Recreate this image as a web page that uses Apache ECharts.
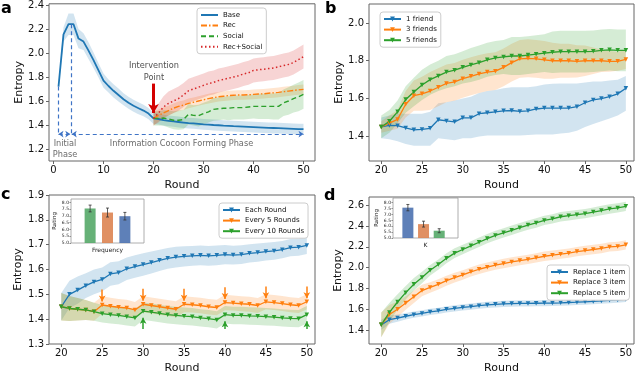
<!DOCTYPE html>
<html>
<head>
<meta charset="utf-8">
<script src="https://cdn.jsdelivr.net/npm/echarts@6/dist/echarts.min.js"></script>
<style>
html,body{margin:0;padding:0;background:#fff;}
#main{width:640px;height:375px;}
</style>
</head>
<body>
<div id="main"></div>
<script>
// rounds
var roundsAll = [1,2,3,4,5,6,7,8,9,10,11,12,13,14,15,16,17,18,19,20,21,22,23,24,25,26,27,28,29,30,31,32,33,34,35,36,37,38,39,40,41,42,43,44,45,46,47,48,49,50];
var roundsLate = [20,21,22,23,24,25,26,27,28,29,30,31,32,33,34,35,36,37,38,39,40,41,42,43,44,45,46,47,48,49,50];

// panel a
var base = [1.72,2.155,2.24,2.24,2.12,2.095,2.02,1.94,1.855,1.77,
  1.725,1.685,1.65,1.615,1.585,1.56,1.54,1.52,1.495,1.455,
  1.45,1.44,1.435,1.43,1.425,1.42,1.415,1.413,1.41,1.405,
  1.403,1.4,1.398,1.395,1.393,1.39,1.388,1.386,1.384,1.382,
  1.38,1.378,1.376,1.375,1.374,1.372,1.37,1.368,1.366,1.365];
var baseSpread = [0.02,0.06,0.09,0.09,0.08,0.07,0.07,0.065,0.06,0.06,
  0.055,0.055,0.055,0.05,0.05,0.05,0.05,0.048,0.047,0.046,
  0.045,0.045,0.045,0.045,0.045,0.045,0.045,0.045,0.045,0.045,
  0.045,0.045,0.045,0.045,0.045,0.045,0.045,0.045,0.045,0.045,
  0.045,0.045,0.045,0.045,0.045,0.045,0.045,0.045,0.045,0.045];
var rec = [1.455,1.48,1.5,1.52,1.54,1.555,1.565,1.58,1.59,1.6,1.61,1.62,1.628,1.635,1.64,1.645,1.648,1.65,1.65,1.652,1.655,1.658,1.66,1.665,1.668,1.672,1.678,1.682,1.688,1.693,1.697];
var recSpread = [0.06,0.05,0.045,0.04,0.04,0.04,0.04,0.04,0.04,0.04,0.04,0.04,0.04,0.04,0.04,0.04,0.04,0.04,0.04,0.04,0.04,0.04,0.04,0.04,0.04,0.04,0.04,0.04,0.04,0.04,0.04];
var social = [1.455,1.455,1.458,1.45,1.44,1.44,1.445,1.49,1.48,1.478,1.495,1.51,1.53,1.535,1.54,1.54,1.545,1.545,1.545,1.55,1.555,1.555,1.555,1.555,1.555,1.555,1.585,1.6,1.62,1.635,1.655];
var socialSpread = [0.06,0.06,0.065,0.07,0.075,0.08,0.08,0.085,0.085,0.09,0.09,0.09,0.095,0.095,0.095,0.1,0.1,0.1,0.1,0.1,0.1,0.105,0.105,0.105,0.11,0.11,0.11,0.115,0.115,0.12,0.12];
var recSocial = [1.455,1.5,1.55,1.58,1.6,1.62,1.65,1.685,1.7,1.715,1.73,1.745,1.755,1.77,1.78,1.79,1.8,1.81,1.825,1.835,1.855,1.86,1.865,1.87,1.875,1.885,1.895,1.905,1.92,1.945,1.97];
var recSocialSpread = [0.06,0.08,0.09,0.1,0.1,0.1,0.1,0.1,0.1,0.1,0.1,0.1,0.1,0.1,0.1,0.1,0.1,0.1,0.1,0.1,0.1,0.1,0.1,0.1,0.1,0.1,0.1,0.1,0.1,0.1,0.1];

// panel b
var friend1 = [1.45,1.458,1.457,1.445,1.435,1.437,1.443,1.488,1.482,1.477,1.498,1.498,1.52,1.525,1.53,1.535,1.537,1.532,1.535,1.545,1.55,1.55,1.55,1.55,1.557,1.578,1.593,1.6,1.61,1.625,1.655];
var friend1Low = [1.39,1.385,1.375,1.36,1.35,1.35,1.35,1.39,1.385,1.38,1.39,1.39,1.4,1.405,1.405,1.405,1.405,1.405,1.408,1.41,1.41,1.41,1.415,1.42,1.43,1.45,1.465,1.48,1.495,1.51,1.535];
var friend1High = [1.5,1.51,1.52,1.52,1.52,1.52,1.53,1.575,1.58,1.59,1.6,1.61,1.63,1.64,1.645,1.655,1.66,1.66,1.66,1.665,1.675,1.678,1.68,1.68,1.68,1.685,1.69,1.69,1.695,1.7,1.72];
var friend3 = [1.45,1.47,1.49,1.57,1.615,1.625,1.64,1.66,1.68,1.688,1.705,1.718,1.73,1.74,1.745,1.765,1.79,1.81,1.813,1.81,1.805,1.8,1.8,1.8,1.797,1.8,1.8,1.8,1.797,1.797,1.807];
var friend3Spread = [0.03,0.04,0.05,0.07,0.08,0.09,0.1,0.1,0.1,0.1,0.1,0.1,0.1,0.1,0.1,0.1,0.1,0.1,0.1,0.1,0.1,0.095,0.09,0.09,0.085,0.08,0.07,0.06,0.055,0.05,0.05];
var friend5 = [1.45,1.48,1.53,1.595,1.635,1.672,1.7,1.72,1.74,1.75,1.765,1.778,1.79,1.805,1.815,1.82,1.825,1.825,1.83,1.835,1.84,1.845,1.848,1.848,1.848,1.848,1.85,1.855,1.858,1.855,1.855];
var friend5Spread = [0.06,0.06,0.06,0.07,0.075,0.08,0.08,0.08,0.085,0.085,0.085,0.09,0.09,0.09,0.09,0.09,0.1,0.1,0.1,0.1,0.1,0.11,0.11,0.11,0.11,0.11,0.11,0.11,0.11,0.11,0.11];

// panel c
var eachRound = [1.45,1.5,1.517,1.535,1.55,1.56,1.582,1.587,1.603,1.612,1.62,1.628,1.637,1.645,1.65,1.653,1.655,1.657,1.655,1.657,1.66,1.658,1.66,1.665,1.668,1.672,1.675,1.68,1.688,1.69,1.697];
var eachSpread = [0.055,0.055,0.055,0.05,0.05,0.048,0.047,0.046,0.045,0.045,0.045,0.044,0.043,0.042,0.042,0.041,0.04,0.04,0.04,0.04,0.039,0.038,0.038,0.037,0.037,0.036,0.036,0.035,0.035,0.035,0.035];
var every5 = [1.45,1.443,1.44,1.437,1.43,1.457,1.452,1.448,1.445,1.437,1.46,1.455,1.45,1.445,1.44,1.46,1.458,1.455,1.45,1.447,1.467,1.465,1.462,1.46,1.455,1.47,1.467,1.463,1.458,1.455,1.47];
var every5Spread = [0.055,0.05,0.045,0.04,0.036,0.035,0.034,0.033,0.033,0.032,0.032,0.032,0.032,0.032,0.032,0.032,0.031,0.031,0.031,0.031,0.031,0.03,0.03,0.03,0.03,0.03,0.03,0.03,0.03,0.03,0.03];
var every10 = [1.45,1.443,1.44,1.437,1.43,1.422,1.418,1.415,1.41,1.405,1.432,1.428,1.423,1.418,1.415,1.412,1.41,1.405,1.402,1.397,1.418,1.415,1.415,1.413,1.412,1.41,1.408,1.405,1.403,1.402,1.418];
var every10Spread = [0.055,0.05,0.045,0.04,0.036,0.035,0.035,0.035,0.035,0.035,0.035,0.035,0.035,0.035,0.035,0.035,0.035,0.035,0.035,0.035,0.035,0.035,0.035,0.035,0.035,0.035,0.035,0.035,0.035,0.035,0.035];
var every5Arrows = [25,30,35,40,45,50];
var every10Arrows = [30,40,50];

// panel d
var replace1 = [1.45,1.5,1.515,1.533,1.548,1.56,1.575,1.585,1.6,1.608,1.618,1.625,1.635,1.642,1.648,1.652,1.655,1.656,1.656,1.658,1.66,1.66,1.662,1.665,1.668,1.672,1.676,1.68,1.687,1.69,1.697];
var replace1Spread = [0.05,0.04,0.035,0.032,0.03,0.03,0.03,0.03,0.03,0.03,0.03,0.03,0.03,0.03,0.03,0.03,0.03,0.03,0.03,0.03,0.03,0.028,0.028,0.028,0.028,0.028,0.028,0.028,0.028,0.028,0.028];
var replace3 = [1.45,1.55,1.6,1.66,1.72,1.78,1.81,1.84,1.875,1.905,1.93,1.96,1.985,2.005,2.025,2.04,2.055,2.068,2.08,2.095,2.11,2.12,2.13,2.14,2.155,2.165,2.175,2.185,2.2,2.205,2.22];
var replace3Spread = [0.12,0.09,0.075,0.065,0.06,0.055,0.05,0.05,0.048,0.047,0.046,0.045,0.045,0.045,0.045,0.045,0.045,0.045,0.045,0.045,0.045,0.045,0.045,0.045,0.045,0.045,0.045,0.045,0.045,0.045,0.045];
var replace5 = [1.45,1.57,1.67,1.76,1.84,1.905,1.975,2.03,2.09,2.14,2.175,2.21,2.245,2.28,2.31,2.335,2.36,2.385,2.41,2.43,2.455,2.47,2.49,2.5,2.51,2.52,2.535,2.55,2.565,2.575,2.59];
var replace5Spread = [0.12,0.09,0.075,0.065,0.06,0.055,0.05,0.05,0.048,0.047,0.046,0.045,0.045,0.045,0.045,0.045,0.045,0.045,0.045,0.045,0.045,0.045,0.045,0.045,0.045,0.045,0.045,0.045,0.045,0.045,0.045];

// insets
var barPos = [0,1,2];
var ratingFreq = [7.55,7.25,6.98];
var ratingFreqErr = [0.25,0.33,0.28];
var ratingK = [7.58,6.18,5.62];
var ratingKErr = [0.27,0.25,0.17];

// ticks
var xTicksA = [0,10,20,30,40,50];
var xTicksLate = [20,25,30,35,40,45,50];
var yTicksA = [1.2,1.4,1.6,1.8,2.0,2.2,2.4];
var yTicksB = [1.4,1.6,1.8,2.0];
var yTicksC = [1.3,1.4,1.5,1.6,1.7,1.8,1.9];
var yTicksD = [1.4,1.6,1.8,2.0,2.2,2.4,2.6];
var yTicksInset = [5.0,5.5,6.0,6.5,7.0,7.5,8.0];

var BLUE = '#1f77b4', ORANGE = '#ff7f0e', GREEN = '#2ca02c', RED = '#d62728';
var FILL = {};
FILL[BLUE] = 'rgba(31,119,180,0.2)';
FILL[ORANGE] = 'rgba(255,127,14,0.2)';
FILL[GREEN] = 'rgba(44,160,44,0.2)';
FILL[RED] = 'rgba(214,39,40,0.2)';
var FRAME = '#666';

function pairs(xs, ys){
    return xs.map(function(x, i){ return [x, ys[i]]; });
}

function bandLH(gi, xs, lo, hi, color){
    var data = xs.map(function(x, i){ return [x, lo[i], hi[i]]; });
    return {
        type: 'custom', xAxisIndex: gi, yAxisIndex: gi, silent: true, z: 1,
        data: data, encode: {x: 0, y: [1, 2]},
        renderItem: function(params, api){
            if (params.dataIndex !== 0) return null;
            var top = [], bot = [];
            for (var i = 0; i < data.length; i++) {
                top.push(api.coord([data[i][0], data[i][2]]));
                bot.unshift(api.coord([data[i][0], data[i][1]]));
            }
            return {type: 'polygon', shape: {points: top.concat(bot)}, style: {fill: FILL[color]}};
        }
    };
}
function band(gi, xs, mean, spread, color){
    var lo = mean.map(function(v, i){ return v - spread[i]; });
    var hi = mean.map(function(v, i){ return v + spread[i]; });
    return bandLH(gi, xs, lo, hi, color);
}
function line(name, gi, xs, ys, color, marker, extra){
    var s = {
        type: 'line', name: name, xAxisIndex: gi, yAxisIndex: gi, z: 3,
        data: pairs(xs, ys),
        symbol: marker ? 'triangle' : 'none', symbolRotate: 180, symbolSize: 4.5,
        lineStyle: {color: color, width: 1.3},
        itemStyle: {color: color}
    };
    for (var k in extra) s[k] = extra[k];
    return s;
}
function xAxis(gi, min, max, ticks, name){
    return {
        type: 'value', gridIndex: gi, min: min, max: max,
        name: name, nameLocation: 'middle', nameGap: 19,
        nameTextStyle: {fontSize: 11, color: '#111'},
        axisLine: {show: false, onZero: false},
        axisTick: {show: true, length: 3, customValues: ticks, lineStyle: {color: FRAME}},
        axisLabel: {customValues: ticks, fontSize: 10, color: '#111', margin: 4, formatter: function(v){ return String(v); }},
        splitLine: {show: false}
    };
}
function yAxis(gi, min, max, ticks, name, gap){
    return {
        type: 'value', gridIndex: gi, min: min, max: max,
        name: name, nameLocation: 'middle', nameGap: gap,
        nameTextStyle: {fontSize: 11, color: '#111'},
        axisLine: {show: false, onZero: false},
        axisTick: {show: true, length: 3, customValues: ticks, lineStyle: {color: FRAME}},
        axisLabel: {customValues: ticks, fontSize: 10, color: '#111', margin: 5, formatter: function(v){ return v.toFixed(1); }},
        splitLine: {show: false}
    };
}
function insetX(gi, min, max, name){
    return {
        type: 'value', gridIndex: gi, min: min, max: max,
        name: name, nameLocation: 'middle', nameGap: 4,
        nameTextStyle: {fontSize: 6, color: '#222'},
        axisLine: {show: false, onZero: false}, axisTick: {show: false},
        axisLabel: {show: false}, splitLine: {show: false}
    };
}
function insetY(gi, max){
    return {
        type: 'value', gridIndex: gi, min: 5, max: max,
        name: 'Rating', nameLocation: 'middle', nameGap: 13,
        nameTextStyle: {fontSize: 5.5, color: '#222'},
        axisLine: {show: false, onZero: false},
        axisTick: {show: true, length: 1.5, customValues: yTicksInset, lineStyle: {color: '#888'}},
        axisLabel: {customValues: yTicksInset, fontSize: 4.5, color: '#222', margin: 2, formatter: function(v){ return v.toFixed(1); }},
        splitLine: {show: false}
    };
}
function insetBars(gi, vals, colors){
    return {
        type: 'bar', xAxisIndex: gi, yAxisIndex: gi, barWidth: 11, silent: true, z: 6,
        data: barPos.map(function(p, i){ return {value: [p, vals[i]], itemStyle: {color: colors[i], opacity: 0.9}}; })
    };
}
function errBars(gi, vals, errs){
    return {
        type: 'custom', xAxisIndex: gi, yAxisIndex: gi, silent: true, z: 7,
        data: barPos.map(function(p, i){ return [p, vals[i] - errs[i], vals[i] + errs[i]]; }),
        renderItem: function(params, api){
            var a = api.coord([api.value(0), api.value(1)]);
            var b = api.coord([api.value(0), api.value(2)]);
            var st = {stroke: '#333', lineWidth: 0.8};
            return {type: 'group', children: [
                {type: 'line', shape: {x1: a[0], y1: a[1], x2: b[0], y2: b[1]}, style: st},
                {type: 'line', shape: {x1: a[0] - 1.5, y1: a[1], x2: a[0] + 1.5, y2: a[1]}, style: st},
                {type: 'line', shape: {x1: b[0] - 1.5, y1: b[1], x2: b[0] + 1.5, y2: b[1]}, style: st}
            ]};
        }
    };
}
function legend(names, left, top, hideSymbol){
    var lg = {
        data: names, orient: 'vertical', left: left, top: top,
        itemWidth: 17, itemHeight: 6, itemGap: 2.6,
        padding: [3, 4, 3, 3],
        backgroundColor: '#fff', borderColor: '#ccc', borderWidth: 1, borderRadius: 3,
        textStyle: {fontSize: 7, color: '#111', lineHeight: 8}
    };
    if (hideSymbol) lg.itemStyle = {opacity: 0};
    return lg;
}
function valueAt(xs, ys, x){ return ys[xs.indexOf(x)]; }

var dashBlue = {color: '#3f74c6', type: [4, 3], width: 1.2};
var series = [
    band(0, roundsAll, base, baseSpread, BLUE),
    band(0, roundsLate, rec, recSpread, ORANGE),
    band(0, roundsLate, social, socialSpread, GREEN),
    band(0, roundsLate, recSocial, recSocialSpread, RED),
    line('Base', 0, roundsAll, base, BLUE, false, {
        lineStyle: {color: BLUE, width: 1.8},
        markLine: {
            silent: true, symbolSize: 5, label: {show: false},
            data: [
                [{coord: [1, 1.72], symbol: 'none', lineStyle: dashBlue}, {coord: [1, 1.324], symbol: 'none'}],
                [{coord: [3.5, 2.24], symbol: 'none', lineStyle: dashBlue}, {coord: [3.5, 1.324], symbol: 'none'}],
                [{coord: [1.0, 1.324], symbol: 'arrow', lineStyle: dashBlue}, {coord: [3.35, 1.324], symbol: 'arrow'}],
                [{coord: [3.65, 1.324], symbol: 'arrow', lineStyle: dashBlue}, {coord: [50, 1.324], symbol: 'arrow'}],
                [{coord: [20, 1.745], symbol: 'none', lineStyle: {color: '#d40000', type: 'solid', width: 3}}, {coord: [20, 1.5], symbol: 'arrow', symbolSize: [8, 9]}]
            ]
        }
    }),
    line('Rec', 0, roundsLate, rec, ORANGE, false, {lineStyle: {color: ORANGE, width: 1.4, type: [6, 2, 1.5, 2]}}),
    line('Social', 0, roundsLate, social, GREEN, false, {lineStyle: {color: GREEN, width: 1.4, type: [5, 3]}}),
    line('Rec+Social', 0, roundsLate, recSocial, RED, false, {lineStyle: {color: RED, width: 1.5, type: [1.5, 2.5]}}),
    {
        type: 'scatter', xAxisIndex: 0, yAxisIndex: 0, symbolSize: 0, silent: true, z: 6,
        label: {show: true, position: 'inside', formatter: '{b}', fontSize: 8.2, color: '#444', lineHeight: 11},
        data: [
            {name: 'Intervention\nPoint', value: [20.1, 1.84], label: {color: '#222', lineHeight: 11.7}},
            {name: 'Initial\nPhase', value: [2.3, 1.194]},
            {name: 'Information Cocoon Forming Phase', value: [25.6, 1.239]}
        ]
    },

    bandLH(1, roundsLate, friend1Low, friend1High, BLUE),
    band(1, roundsLate, friend3, friend3Spread, ORANGE),
    band(1, roundsLate, friend5, friend5Spread, GREEN),
    line('1 friend', 1, roundsLate, friend1, BLUE, true),
    line('3 friends', 1, roundsLate, friend3, ORANGE, true),
    line('5 friends', 1, roundsLate, friend5, GREEN, true),

    band(2, roundsLate, eachRound, eachSpread, BLUE),
    band(2, roundsLate, every5, every5Spread, ORANGE),
    band(2, roundsLate, every10, every10Spread, GREEN),
    line('Each Round', 2, roundsLate, eachRound, BLUE, true),
    line('Every 5 Rounds', 2, roundsLate, every5, ORANGE, true, {
        markLine: {
            silent: true, symbolSize: [5, 6], label: {show: false},
            lineStyle: {color: ORANGE, type: 'solid', width: 1.5},
            data: every5Arrows.map(function(r){
                var v = valueAt(roundsLate, every5, r);
                return [{coord: [r, v + 0.062], symbol: 'none'}, {coord: [r, v + 0.014], symbol: 'arrow'}];
            })
        }
    }),
    line('Every 10 Rounds', 2, roundsLate, every10, GREEN, true, {
        markLine: {
            silent: true, symbolSize: [5, 6], label: {show: false},
            lineStyle: {color: GREEN, type: 'solid', width: 1.5},
            data: every10Arrows.map(function(r){
                var v = valueAt(roundsLate, every10, r);
                return [{coord: [r, 1.36], symbol: 'none'}, {coord: [r, v - 0.026], symbol: 'arrow'}];
            })
        }
    }),

    band(3, roundsLate, replace1, replace1Spread, BLUE),
    band(3, roundsLate, replace3, replace3Spread, ORANGE),
    band(3, roundsLate, replace5, replace5Spread, GREEN),
    line('Replace 1 item', 3, roundsLate, replace1, BLUE, true),
    line('Replace 3 item', 3, roundsLate, replace3, ORANGE, true),
    line('Replace 5 item', 3, roundsLate, replace5, GREEN, true),

    insetBars(4, ratingFreq, ['#55a868', '#dd8452', '#4c72b0']),
    errBars(4, ratingFreq, ratingFreqErr),
    insetBars(5, ratingK, ['#4c72b0', '#dd8452', '#55a868']),
    errBars(5, ratingK, ratingKErr)
];

var gridStyle = {show: true, borderColor: FRAME, borderWidth: 1, backgroundColor: 'transparent'};
function grid(l, t, w, h, extra){
    var g = {left: l, top: t, width: w, height: h};
    for (var k in gridStyle) g[k] = gridStyle[k];
    for (var k2 in extra) g[k2] = extra[k2];
    return g;
}

var option = {
    animation: false,
    textStyle: {fontFamily: 'DejaVu Sans'},
    title: [
        {text: 'a', left: 1, top: 1, padding: 0, textStyle: {fontSize: 16, fontWeight: 'bold', color: '#000'}},
        {text: 'b', left: 325, top: 1, padding: 0, textStyle: {fontSize: 16, fontWeight: 'bold', color: '#000'}},
        {text: 'c', left: 1, top: 187, padding: 0, textStyle: {fontSize: 16, fontWeight: 'bold', color: '#000'}},
        {text: 'd', left: 324, top: 188, padding: 0, textStyle: {fontSize: 16, fontWeight: 'bold', color: '#000'}}
    ],
    grid: [
        grid(49, 3, 266, 158),
        grid(369, 4, 265, 157),
        grid(49, 195, 266, 157),
        grid(369, 197, 265, 155),
        grid(71, 199, 73, 44, {borderColor: '#999', borderWidth: 0.8, backgroundColor: '#fff', z: 4}),
        grid(393, 198, 65, 40, {borderColor: '#999', borderWidth: 0.8, backgroundColor: '#fff', z: 4})
    ],
    xAxis: [
        xAxis(0, -0.9, 52.3, xTicksA, 'Round'),
        xAxis(1, 18.5, 51, xTicksLate, 'Round'),
        xAxis(2, 18.5, 51, xTicksLate, 'Round'),
        xAxis(3, 18.5, 51, xTicksLate, 'Round'),
        insetX(4, -1.1, 3.1, 'Frequency'),
        insetX(5, -0.95, 3.2, 'K')
    ],
    yAxis: [
        yAxis(0, 1.1, 2.41, yTicksA, 'Entropy', 24),
        yAxis(1, 1.27, 2.1, yTicksB, 'Entropy', 22),
        yAxis(2, 1.3, 1.9, yTicksC, 'Entropy', 25),
        yAxis(3, 1.266, 2.68, yTicksD, 'Entropy', 25),
        insetY(4, 8.25),
        insetY(5, 8.4)
    ],
    legend: [
        legend(['Base', 'Rec', 'Social', 'Rec+Social'], 197, 8, true),
        legend(['1 friend', '3 friends', '5 friends'], 380, 12),
        legend(['Each Round', 'Every 5 Rounds', 'Every 10 Rounds'], 219, 203),
        legend(['Replace 1 item', 'Replace 3 item', 'Replace 5 item'], 547, 265)
    ],
    series: series
};

var chart = echarts.init(document.getElementById('main'));
chart.setOption(option);
</script>
</body>
</html>
